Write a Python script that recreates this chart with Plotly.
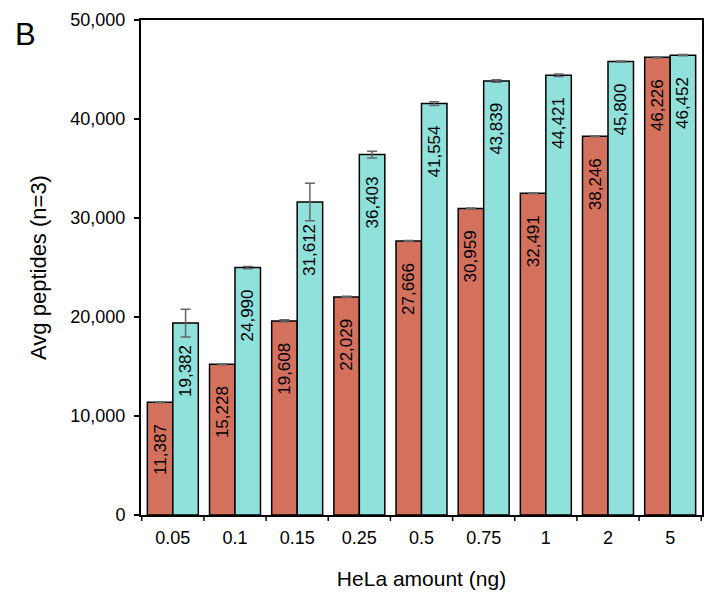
import plotly.graph_objects as go

categories = ["0.05", "0.1", "0.15", "0.25", "0.5", "0.75", "1", "2", "5"]
red_values = [11387, 15228, 19608, 22029, 27666, 30959, 32491, 38246, 46226]
teal_values = [19382, 24990, 31612, 36403, 41554, 43839, 44421, 45800, 46452]
red_err = [60, 50, 120, 60, 50, 60, 50, 50, 60]
teal_err = [1400, 120, 1900, 350, 200, 120, 120, 60, 60]

def fmt(v):
    return f"{v:,}" + "\u00a0\u00a0\u00a0\u00a0"

fig = go.Figure()
for vals, errs, col in [(red_values, red_err, "#D4715D"), (teal_values, teal_err, "#90E0DC")]:
    fig.add_trace(go.Bar(
        x=categories, y=vals,
        marker=dict(color=col, line=dict(color="black", width=1.5)),
        error_y=dict(type="data", array=errs, color="#666666", thickness=1.5, width=5),
        text=[fmt(v) for v in vals],
        textposition="inside", insidetextanchor="end", textangle=-90,
        constraintext="none",
        textfont=dict(family="Liberation Sans, Arial", size=17, color="black"),
        cliponaxis=False,
    ))

fig.update_layout(
    width=711, height=592,
    margin=dict(l=141, r=9, t=20, b=77),
    paper_bgcolor="white", plot_bgcolor="white",
    barmode="group", bargap=0.18, bargroupgap=0,
    showlegend=False,
    font=dict(family="Liberation Sans, Arial", color="black"),
)
fig.update_yaxes(
    range=[0, 50000], tickvals=[0, 10000, 20000, 30000, 40000, 50000],
    ticktext=["0", "10,000", "20,000", "30,000", "40,000", "50,000"],
    ticks="outside", ticklen=5, tickwidth=1.5, tickcolor="black",
    showline=True, linecolor="black", linewidth=2, mirror=True,
    showgrid=False, zeroline=False, automargin=False,
    tickfont=dict(size=18), ticklabelstandoff=5,
    title=dict(text="Avg peptides (n=3)", font=dict(size=22), standoff=18),
)
fig.update_xaxes(
    showline=True, linecolor="black", linewidth=2, mirror=True,
    ticks="", showgrid=False, automargin=False,
    tickfont=dict(size=18), ticklabelstandoff=5,
    title=dict(text="HeLa amount (ng)", font=dict(size=21), standoff=25),
)
# tick marks at category boundaries
for i in range(len(categories) + 1):
    fig.add_shape(type="line", xref="x", yref="paper",
                  x0=i - 0.5, x1=i - 0.5, y0=0, y1=-0.012,
                  line=dict(color="black", width=1.5))
fig.add_annotation(text="B", xref="paper", yref="paper", x=-0.228, y=1.01,
                   xanchor="left", yanchor="top", showarrow=False,
                   font=dict(size=31, color="black"))
fig.write_html("out.html")
